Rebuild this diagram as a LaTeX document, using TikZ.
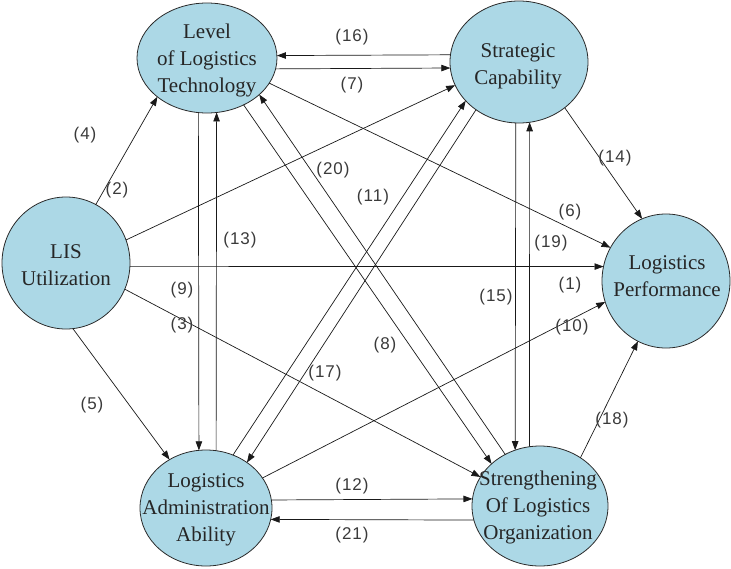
\documentclass[tikz,border=0pt]{standalone}
\usepackage{fontspec}
\setmainfont{Liberation Serif}
\newfontfamily\capfont{Liberation Serif}
\newfontfamily\lblfont[LetterSpace=6]{Liberation Sans}
\usetikzlibrary{arrows.meta,shapes.geometric}
\definecolor{nodefill}{HTML}{ACD8E6}
\definecolor{edgegray}{HTML}{2A2A2A}
\definecolor{lblgray}{HTML}{3A3A3A}

\begin{document}
\begin{tikzpicture}[x=1pt,y=-1pt,
  bubble/.style={ellipse,draw=edgegray,line width=0.8pt,fill=nodefill,outer sep=0pt,inner sep=0pt},
  caption/.style={align=center,font=\capfont\fontsize{21}{27}\selectfont,text=black!85},
  num/.style={font=\lblfont\fontsize{17}{17}\selectfont,text=lblgray,inner sep=1pt},
  link/.style={draw=black!90,line width=0.7pt,-{Triangle[length=9pt,width=6.5pt]}}]

\useasboundingbox (0,0) rectangle (731,568);

% ellipses
\node[bubble,minimum width=140pt,minimum height=110pt] (llt)  at (207,58)  {};
\node[bubble,minimum width=138pt,minimum height=122pt] (sc)   at (519,62)  {};
\node[bubble,minimum width=128pt,minimum height=132pt] (lis)  at (66,263)  {};
\node[bubble,minimum width=128pt,minimum height=134pt] (lp)   at (666,281) {};
\node[bubble,minimum width=132pt,minimum height=116pt] (laa)  at (206,508) {};
\node[bubble,minimum width=136pt,minimum height=120pt] (solo) at (540,506) {};

% captions
\node[caption] (lltT)  at (207,60)  {Level\\of Logistics\\Technology};
\node[caption] (scT)   at (518,66)  {Strategic\\Capability};
\node[caption] (lisT)  at (66,265)  {LIS\\Utilization};
\node[caption] (lpT)   at (667,276) {Logistics\\Performance};
\node[caption] (laaT)  at (206,510) {Logistics\\Administration\\Ability};
\node[caption] (soloT) at (538,507) {Strengthening\\Of Logistics\\Organization};

% connectors
\draw[link] (sc.174.17) -- (llt.2.46);
\draw[link] (llt.-9.11) -- (sc.185.83);
\draw[link] (lis.63.43) -- (llt.-142.43);
\draw[link] (lis.21.96) -- (sc.-160.08);
\draw[link] (llt.-22.55) -- (lp.149.18);
\draw[link] (lis.-3.58) -- (lp.167.39);
\draw[link] (sc.-45.58) -- (lp.111.8);
\draw[link] (solo.50.53) -- (lp.-115.3);
\draw[link] (laa.28.54) -- (lp.-161.86);
\draw[link] (lis.-24.96) -- (solo.154.5);
\draw[link] (lis.-84.73) -- (laa.127.73);
\draw[link] (llt.-99.37) -- (laa.97.91);
\draw[link] (laa.80.11) -- (llt.-80.63);
\draw[link] (sc.-93.76) -- (solo.114.13);
\draw[link] (solo.100.52) -- (sc.-80.59);
\draw[link] (llt.-52.21) -- (solo.139.76);
\draw[link] (solo.124.16) -- (llt.-35.8);
\draw[link] (laa.63.85) -- (sc.-144.94);
\draw[link] (sc.-132.51) -- (laa.48.15);
\draw[link] (laa.7.86) -- (solo.174.08);
\draw[link] (solo.-168.04) -- (laa.-10.5);

% path numbers
\node[num] (n16) at (352,37)  {(16)};
\node[num] (n7)  at (352,85)  {(7)};
\node[num] (n4)  at (85,135)  {(4)};
\node[num] (n2)  at (117,190) {(2)};
\node[num] (n14) at (615,158) {(14)};
\node[num] (n6)  at (570,212) {(6)};
\node[num] (n20) at (333,170) {(20)};
\node[num] (n11) at (373,197) {(11)};
\node[num] (n13) at (240,240) {(13)};
\node[num] (n19) at (551,243) {(19)};
\node[num] (n9)  at (182,290) {(9)};
\node[num] (n1)  at (570,285) {(1)};
\node[num] (n15) at (496,297) {(15)};
\node[num] (n3)  at (182,325) {(3)};
\node[num] (n10) at (572,327) {(10)};
\node[num] (n8)  at (385,345) {(8)};
\node[num] (n17) at (325,373) {(17)};
\node[num] (n5)  at (92,405)  {(5)};
\node[num] (n18) at (612,420) {(18)};
\node[num] (n12) at (352,486) {(12)};
\node[num] (n21) at (352,535) {(21)};
\end{tikzpicture}
\end{document}
